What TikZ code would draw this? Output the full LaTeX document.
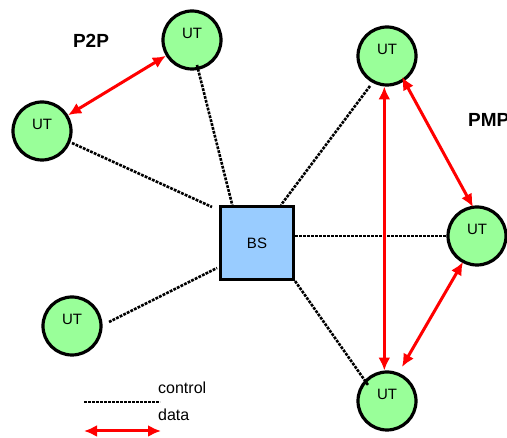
\documentclass[tikz,border=0pt]{standalone}
\usepackage{fontspec}
\setmainfont{Liberation Sans}
\usetikzlibrary{arrows.meta,calc}
\definecolor{utgreen}{HTML}{99FF99}
\definecolor{bsblue}{HTML}{99CCFF}
\definecolor{datared}{HTML}{FF0000}
\tikzset{
  ut/.style={circle, draw=black, fill=utgreen, line width=3.2pt, minimum size=58pt, inner sep=0pt,
    label={[font=\fontsize{15}{15}\selectfont, yshift=7pt]center:UT}},
  bsbox/.style={rectangle, draw=black, fill=bsblue, line width=3.2pt, minimum size=73pt, inner sep=0pt,
    font=\fontsize{15}{15}\selectfont},
  ctrl/.style={black, line width=2.6pt, dash pattern=on 2.8pt off 1.2pt},
  datalink/.style={datared, line width=3pt, {Latex[length=13pt,width=12pt]}-{Latex[length=13pt,width=12pt]}},
  tag/.style={font=\fontsize{19}{19}\selectfont\bfseries},
  legendtext/.style={font=\fontsize{16}{16}\selectfont, anchor=west, inner sep=0pt}
}
\begin{document}
\begin{tikzpicture}[x=1pt, y=-1pt]
\useasboundingbox (0,0) rectangle (507,438);

% stations
\node[bsbox] (BS) at (257,243) {BS};
\node[ut] (T)  at (192,40)  {};
\node[ut] (L)  at (42,131)  {};
\node[ut] (BL) at (72,326)  {};
\node[ut] (TR) at (387,56)  {};
\node[ut] (R)  at (477,236) {};
\node[ut] (BR) at (387,401) {};

% mode labels
\node[tag] (p2p) at (91,41) {P2P};
\node[tag, anchor=west, inner sep=0pt] (pmp) at (468,120) {PMP};

% control links to the base station
\draw[ctrl] ($(T)+(5,25)$) -- ($(BS)+(-24,-35)$);
\draw[ctrl] ($(L)+(30,12)$) -- ($(BS)+(-45,-36)$);
\draw[ctrl] ($(BL)+(37,-4)$) -- ($(BS)+(-40,25)$);
\draw[ctrl] ($(TR)+(-17,30)$) -- ($(BS)+(24,-38)$);
\draw[ctrl] (BS.east |- R) -- (R.west);
\draw[ctrl] (BS.south east) -- ($(BR)+(-19,-16)$);

% data links
\draw[datalink] (L) -- (T);
\draw[datalink] (TR.265) -- (BR.95);
\draw[datalink] ($(TR)+(15,21)$) -- ($(R)+(-4,-29)$);
\draw[datalink] ($(R)+(-14,26)$) -- ($(BR)+(15,-34)$);

% legend
\coordinate (c1) at (84,402);
\coordinate (c2) at (160,402);
\draw[ctrl] (c1) -- (c2);
\node[legendtext] (lc) at (158,388) {control};
\node[legendtext] (ld) at (158,415) {data};
\coordinate (d1) at (84,431);
\coordinate (d2) at (161,431);
\draw[datalink] (d1) -- (d2);
\end{tikzpicture}
\end{document}
